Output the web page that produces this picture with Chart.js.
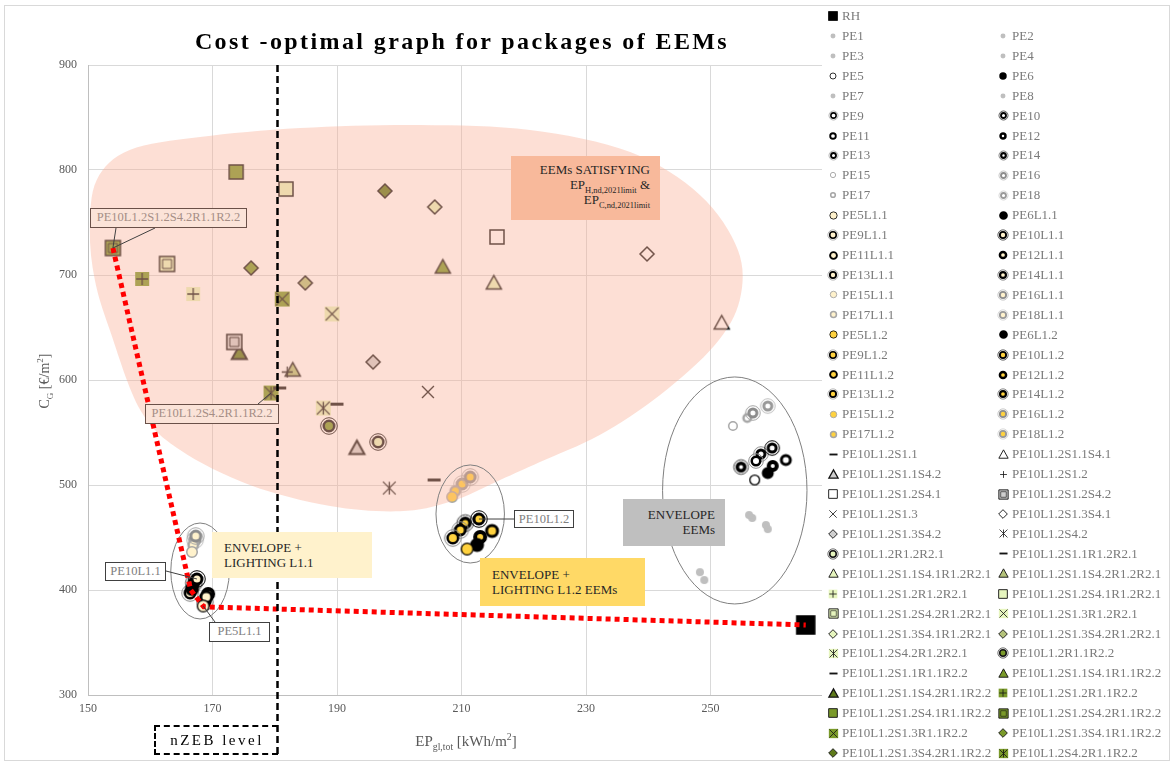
<!DOCTYPE html>
<html>
<head>
<meta charset="utf-8">
<script src="https://cdn.jsdelivr.net/npm/chart.js@4.4.1/dist/chart.umd.min.js"></script>
<style>
  body { margin: 0; background: #fff; font-family: "Liberation Serif", "Times New Roman", serif; }
  #wrap { position: relative; width: 1173px; height: 764px; overflow: hidden; }
  #frame { position: absolute; left: 4px; top: 5px; width: 1166px; height: 756px; border: 1px solid #d9d9d9; box-sizing: border-box; pointer-events: none; }
  canvas#chart { position: absolute; left: 0; top: 0; }
  .ov { position: absolute; box-sizing: border-box; }
  #title { left: 462px; top: 41px; transform: translate(-50%, -50%); font-weight: bold; font-size: 24px; letter-spacing: 2.4px; white-space: nowrap; color: #000; }
  #ytitle { left: 45px; top: 381px; transform: translate(-50%, -50%) rotate(-90deg); font-size: 14px; color: #595959; white-space: nowrap; }
  #xtitle { left: 466px; top: 741px; transform: translate(-50%, -50%); font-size: 15px; color: #595959; white-space: nowrap; }
  sub, sup { font-size: 65%; line-height: 0; }
  #legend { left: 822px; top: 6px; width: 346px; height: 752px; background: #fff; }
  .li { position: absolute; height: 16px; font-size: 13px; color: #7a7a7a; white-space: nowrap; line-height: 16px; }
  .li canvas { position: absolute; }
  .li span { position: absolute; left: 9px; top: 0; }
  .tag { font-size: 13px; color: #262626; line-height: 15px; }
  .call { font-size: 12.5px; color: #808080; background: #fff; border: 1px solid #404040; text-align: center; white-space: nowrap; line-height: 16px; }
  .call.pink { background: #fbe3d8; color: #a58e86; border-color: #6a5048; }
  #nzeb { left: 154px; top: 725px; width: 124px; height: 30px; border: 2px dashed #000; border-right: none; font-size: 15px; letter-spacing: 2.5px; text-align: center; line-height: 26px; color: #000; }
</style>
</head>
<body>
<div id="wrap">
  <canvas id="chart" width="1173" height="764"></canvas>
  <div id="frame"></div>
  <div class="ov" id="title">Cost -optimal graph for packages of EEMs</div>
  <div class="ov" id="ytitle">C<sub>G</sub> [€/m<sup>2</sup>]</div>
  <div class="ov" id="xtitle">EP<sub>gl,tot</sub> [kWh/m<sup>2</sup>]</div>
  <div class="ov tag" style="left:511px;top:156px;width:149px;height:64px;background:#f8b99b;text-align:right;padding:6px 10px 0 0;">EEMs SATISFYING<br>EP<sub>H,nd,2021limit</sub> &amp;<br>EP<sub>C,nd,2021limit</sub></div>
  <div class="ov tag" style="left:212px;top:532px;width:160px;height:46px;background:#fff2cc;padding:8px 0 0 12px;">ENVELOPE +<br>LIGHTING L1.1</div>
  <div class="ov tag" style="left:480px;top:558px;width:165px;height:48px;background:#ffd966;padding:9px 0 0 12px;">ENVELOPE +<br>LIGHTING L1.2 EEMs</div>
  <div class="ov tag" style="left:623px;top:499px;width:102px;height:47px;background:#bfbfbf;text-align:right;padding:8px 10px 0 0;">ENVELOPE<br>EEMs</div>
  <div class="ov call pink" style="left:90px;top:208px;width:157px;height:20px;">PE10L1.2S1.2S4.2R1.1R2.2</div>
  <div class="ov call pink" style="left:145px;top:404px;width:134px;height:20px;">PE10L1.2S4.2R1.1R2.2</div>
  <div class="ov call" style="left:105px;top:562px;width:61px;height:19px;">PE10L1.1</div>
  <div class="ov call" style="left:209px;top:622px;width:61px;height:20px;">PE5L1.1</div>
  <div class="ov call" style="left:514px;top:510px;width:60px;height:18px;">PE10L1.2</div>
  <div class="ov" id="nzeb">nZEB level</div>
  <div class="ov" id="legend"></div>
</div>
<script>
// axis ticks
const xTicks = [150, 170, 190, 210, 230, 250, 270];
const yTicks = [300, 400, 500, 600, 700, 800, 900];

// reference building
const rhEP = 265.3;
const rhCost = 366.7;

// envelope packages
const peNames = ['PE1','PE2','PE3','PE4','PE5','PE6','PE7','PE8','PE9','PE10','PE11','PE12','PE13','PE14','PE15','PE16','PE17','PE18'];
const peEP   = [248.3, 249.0, 256.2, 256.7, 257.1, 259.2, 258.9, 259.2, 257.3, 259.9, 262.1, 260.0, 258.1, 254.9, 253.6, 256.8, 255.9, 259.2];
const peCost = [417.0, 409.5, 471.4, 468.6, 504.8, 511.4, 461.9, 458.0, 522.9, 535.2, 523.8, 518.1, 529.5, 517.1, 556.2, 568.6, 563.8, 575.2];

// envelope + lighting L1.1
const l11Names = ['PE5L1.1','PE6L1.1','PE9L1.1','PE10L1.1','PE11L1.1','PE12L1.1','PE13L1.1','PE14L1.1','PE15L1.1','PE16L1.1','PE17L1.1','PE18L1.1'];
const l11EP   = [168.5, 166.7, 166.4, 167.5, 169.0, 169.3, 168.8, 167.0, 166.7, 167.3, 166.9, 167.2];
const l11Cost = [384.8, 401.0, 397.1, 410.5, 393.3, 396.2, 388.6, 406.7, 436.2, 451.4, 442.9, 447.6];

// envelope + lighting L1.2
const l12Names = ['PE5L1.2','PE6L1.2','PE9L1.2','PE10L1.2','PE11L1.2','PE12L1.2','PE13L1.2','PE14L1.2','PE15L1.2','PE16L1.2','PE17L1.2','PE18L1.2'];
const l12EP   = [210.9, 212.5, 208.6, 212.8, 214.9, 213.0, 209.8, 210.6, 208.5, 211.4, 209.0, 210.1];
const l12Cost = [439.0, 442.9, 449.5, 467.6, 456.2, 450.5, 457.1, 463.8, 488.6, 507.6, 494.3, 501.0];

// PE10L1.2 + systems / renewables
const eemNames = [
  'PE10L1.2S1.1','PE10L1.2S1.1S4.1','PE10L1.2S1.1S4.2','PE10L1.2S1.2','PE10L1.2S1.2S4.1','PE10L1.2S1.2S4.2',
  'PE10L1.2S1.3','PE10L1.2S1.3S4.1','PE10L1.2S1.3S4.2','PE10L1.2S4.2','PE10L1.2R1.2R2.1','PE10L1.2S1.1R1.2R2.1',
  'PE10L1.2S1.1S4.1R1.2R2.1','PE10L1.2S1.1S4.2R1.2R2.1','PE10L1.2S1.2R1.2R2.1','PE10L1.2S1.2S4.1R1.2R2.1',
  'PE10L1.2S1.2S4.2R1.2R2.1','PE10L1.2S1.3R1.2R2.1','PE10L1.2S1.3S4.1R1.2R2.1','PE10L1.2S1.3S4.2R1.2R2.1',
  'PE10L1.2S4.2R1.2R2.1','PE10L1.2R1.1R2.2','PE10L1.2S1.1R1.1R2.2','PE10L1.2S1.1S4.1R1.1R2.2',
  'PE10L1.2S1.1S4.2R1.1R2.2','PE10L1.2S1.2R1.1R2.2','PE10L1.2S1.2S4.1R1.1R2.2','PE10L1.2S1.2S4.2R1.1R2.2',
  'PE10L1.2S1.3R1.1R2.2','PE10L1.2S1.3S4.1R1.1R2.2','PE10L1.2S1.3S4.2R1.1R2.2','PE10L1.2S4.2R1.1R2.2'
];
const eemEP = [
  205.6, 251.8, 193.2, 182.0, 215.7, 173.5,
  204.6, 239.8, 195.8, 198.4, 196.6, 190.0,
  215.2, 182.9, 166.9, 181.8,
  162.7, 189.2, 205.7, 184.9,
  187.8, 188.7, 180.8, 207.0,
  174.3, 158.7, 173.8, 154.0,
  181.2, 176.2, 197.7, 179.4
];
const eemCost = [
  504.8, 654.3, 535.2, 607.6, 736.2, 636.2,
  588.6, 720.0, 617.1, 497.1, 541.0, 577.0,
  692.4, 609.5, 681.9, 781.9,
  710.5, 662.9, 764.8, 692.4,
  573.3, 556.2, 592.4, 707.6,
  625.7, 696.2, 798.1, 725.7,
  677.1, 706.7, 780.0, 587.6
];

// cost-optimal front (red dotted)
const paretoEP   = [154.0, 166.5, 168.6, 265.3];
const paretoCost = [725.7, 400.0, 384.0, 366.7];

// nZEB limit
const nzebEP = 180.4;

// outline of the "EEMs satisfying" area
const zoneEP   = [150.3, 151.4, 156.7, 168.0, 184.1, 203.3, 221.0, 237.1, 248.3, 254.4, 254.7, 250.7, 241.9, 232.2, 222.6, 216.2, 208.2, 200.1, 188.9, 176.0, 164.8, 158.4, 153.5, 151.1];
const zoneCost = [742.9, 790.5, 819.0, 831.4, 840.0, 842.9, 838.1, 817.1, 776.2, 723.8, 676.2, 633.3, 585.7, 547.6, 521.9, 504.8, 484.0, 475.0, 480.0, 500.0, 533.3, 571.4, 647.6, 695.2];

// group ellipses [centre EP, centre cost, half EP, half cost]
const groupRings = [
  [168.0, 418.1, 4.7, 45.7],
  [211.4, 472.4, 5.5, 46.7],
  [253.9, 494.8, 11.6, 108.1]
];

// ---------- marker looks ----------
const INK = '#141414', LIGHT = '#e6f5be', OLIVE = '#7a9a2a', DARKOLIVE = '#5e7a1a', GRAYOLIVE = '#b4c27a', GRAYFILL = '#cfcfcf';

const ringLook = {
  5:  { size: 11, lw: 1.3, stroke: '#000' },
  6:  { size: 12, lw: 3, stroke: '#000', fill: '#000' },
  9:  { size: 11, lw: 2.5, stroke: '#000', outer: '#8c8c8c' },
  10: { size: 11, lw: 3, stroke: '#000', outer: '#000' },
  11: { size: 12, lw: 3, stroke: '#000' },
  12: { size: 12, lw: 4, stroke: '#000' },
  13: { size: 11, lw: 3, stroke: '#000', outer: '#8c8c8c' },
  14: { size: 11, lw: 3.5, stroke: '#000', outer: '#404040' },
  15: { size: 10, lw: 1.5, stroke: '#a6a6a6' },
  16: { size: 11, lw: 3, stroke: '#8c8c8c', outer: '#a6a6a6' },
  17: { size: 10, lw: 2.5, stroke: '#a6a6a6' },
  18: { size: 11, lw: 3, stroke: '#999', outer: '#bfbfbf' }
};

function peLook(name, fill, grow) {
  const n = parseInt(name.slice(2));
  const base = ringLook[n];
  if (!base) return { shape: 'dot', size: 8, fill: '#bfbfbf' };
  return Object.assign({ shape: 'ring', fill: fill }, base, { size: base.size + grow });
}

const eemLooks = [
  { shape: 'dash', size: 13 },
  { shape: 'tri', size: 15, fill: '#fff' },
  { shape: 'tri', size: 15, fill: GRAYFILL, lw: 2 },
  { shape: 'plus', size: 13 },
  { shape: 'square', size: 14, fill: '#fff' },
  { shape: 'square2', size: 15, fill: GRAYFILL },
  { shape: 'cross', size: 14 },
  { shape: 'diamond', size: 14, fill: '#fff' },
  { shape: 'diamond', size: 14, fill: GRAYFILL },
  { shape: 'star', size: 15 },
  { shape: 'ring', size: 13, lw: 2.5, fill: LIGHT, stroke: INK, outer: INK },
  { shape: 'dash', size: 13 },
  { shape: 'tri', size: 15, fill: LIGHT },
  { shape: 'tri', size: 15, fill: GRAYOLIVE },
  { shape: 'plus', size: 14, fill: LIGHT },
  { shape: 'square', size: 14, fill: LIGHT },
  { shape: 'square2', size: 15, fill: LIGHT },
  { shape: 'cross', size: 15, fill: LIGHT },
  { shape: 'diamond', size: 14, fill: LIGHT },
  { shape: 'diamond', size: 14, fill: GRAYOLIVE },
  { shape: 'star', size: 15, fill: LIGHT },
  { shape: 'ring', size: 13, lw: 2.5, fill: OLIVE, stroke: INK, outer: INK },
  { shape: 'dash', size: 13 },
  { shape: 'tri', size: 15, fill: OLIVE },
  { shape: 'tri', size: 15, fill: DARKOLIVE, lw: 2 },
  { shape: 'plus', size: 14, fill: OLIVE },
  { shape: 'square', size: 14, fill: OLIVE },
  { shape: 'square2', size: 15, fill: OLIVE },
  { shape: 'cross', size: 15, fill: OLIVE },
  { shape: 'diamond', size: 14, fill: OLIVE },
  { shape: 'diamond', size: 14, fill: DARKOLIVE },
  { shape: 'star', size: 15, fill: OLIVE }
];

function makeMarker(s, k) {
  k = k || 1;
  const size = (s.size || 12) * k;
  const lw = (s.lw || 1.5) * k;
  const extra = s.outer ? 3 * k : 0;
  const dim = Math.ceil(size + extra * 2 + lw + 4);
  const c = document.createElement('canvas');
  c.width = c.height = dim;
  const g = c.getContext('2d');
  const m = dim / 2, r = size / 2;
  g.strokeStyle = s.stroke || INK;
  g.fillStyle = s.fill || '#fff';
  g.lineWidth = lw;
  g.beginPath();
  switch (s.shape) {
    case 'dot':
      g.arc(m, m, r, 0, Math.PI * 2); g.fill();
      break;
    case 'ring':
      if (s.outer) {
        g.save(); g.strokeStyle = s.outer; g.lineWidth = 1 * k;
        g.beginPath(); g.arc(m, m, r + 1.8 * k, 0, Math.PI * 2); g.stroke(); g.restore();
        g.beginPath();
      }
      g.arc(m, m, r - lw / 2, 0, Math.PI * 2); g.fill(); g.stroke();
      break;
    case 'square':
    case 'square2':
      g.rect(m - r, m - r, size, size); g.fill(); g.stroke();
      if (s.shape === 'square2') { g.beginPath(); g.lineWidth = 1 * k; g.rect(m - r + 3 * k, m - r + 3 * k, size - 6 * k, size - 6 * k); g.stroke(); }
      break;
    case 'tri':
      g.moveTo(m, m - r); g.lineTo(m + r, m + r * 0.8); g.lineTo(m - r, m + r * 0.8); g.closePath(); g.fill(); g.stroke();
      break;
    case 'diamond':
      g.moveTo(m, m - r); g.lineTo(m + r, m); g.lineTo(m, m + r); g.lineTo(m - r, m); g.closePath(); g.fill(); g.stroke();
      break;
    case 'dash':
      g.fillStyle = s.stroke || INK; g.fillRect(m - r, m - 1.5 * k, size, 3 * k);
      break;
    default: {
      if (s.fill) { g.fillRect(m - r, m - r, size, size); }
      g.lineWidth = 1.3 * k;
      const a = r * 0.85;
      g.beginPath();
      if (s.shape === 'plus') { g.moveTo(m - a, m); g.lineTo(m + a, m); g.moveTo(m, m - a); g.lineTo(m, m + a); }
      else {
        g.moveTo(m - a, m - a); g.lineTo(m + a, m + a); g.moveTo(m + a, m - a); g.lineTo(m - a, m + a);
        if (s.shape === 'star') { g.moveTo(m, m - a); g.lineTo(m, m + a); }
      }
      g.stroke();
    }
  }
  return c;
}

// ---------- datasets ----------
const datasets = [];
function addSeries(label, ep, cost, look) {
  datasets.push({
    label: label,
    data: [{ x: ep, y: cost }],
    look: look,
    pointStyle: makeMarker(look),
    pointRadius: 7,
    pointHoverRadius: 7,
    showLine: false
  });
}
addSeries('RH', rhEP, rhCost, { shape: 'square', size: 18, fill: '#000', stroke: '#000' });
peNames.forEach((n, i) => addSeries(n, peEP[i], peCost[i], peLook(n, '#fff', 0)));
l11Names.forEach((n, i) => addSeries(n, l11EP[i], l11Cost[i], peLook(n, '#fff2cc', 2)));
l12Names.forEach((n, i) => addSeries(n, l12EP[i], l12Cost[i], peLook(n, '#ffd23f', 2)));
eemNames.forEach((n, i) => addSeries(n, eemEP[i], eemCost[i], eemLooks[i]));

datasets.push({
  label: 'front',
  isFront: true,
  data: paretoEP.map((x, i) => ({ x: x, y: paretoCost[i] })),
  showLine: true,
  borderColor: '#ff0000',
  borderWidth: 5,
  borderDash: [5, 4],
  borderCapStyle: 'butt',
  pointRadius: 0,
  order: -1
});

// ---------- overlay drawings ----------
function smoothClosed(g, pts) {
  const n = pts.length;
  g.moveTo(pts[0].x, pts[0].y);
  for (let i = 0; i < n; i++) {
    const p0 = pts[(i - 1 + n) % n], p1 = pts[i], p2 = pts[(i + 1) % n], p3 = pts[(i + 2) % n];
    g.bezierCurveTo(p1.x + (p2.x - p0.x) / 6, p1.y + (p2.y - p0.y) / 6,
                    p2.x - (p3.x - p1.x) / 6, p2.y - (p3.y - p1.y) / 6, p2.x, p2.y);
  }
  g.closePath();
}

function pointPx(chart, name) {
  const i = chart.data.datasets.findIndex(d => d.label === name);
  const p = chart.getDatasetMeta(i).data[0];
  return { x: p.x, y: p.y };
}

const overlays = {
  id: 'overlays',
  beforeDatasetDraw(chart, args) {
    if (!chart.data.datasets[args.index].isFront) return;
    const g = chart.ctx, xs = chart.scales.x, ys = chart.scales.y;
    const pts = zoneEP.map((e, i) => ({ x: xs.getPixelForValue(e), y: ys.getPixelForValue(zoneCost[i]) }));
    g.save();
    g.beginPath();
    smoothClosed(g, pts);
    g.fillStyle = 'rgba(250,175,150,0.4)';
    g.fill();
    // group ellipses
    g.strokeStyle = '#7f7f7f';
    g.lineWidth = 1;
    groupRings.forEach(r => {
      const cx = xs.getPixelForValue(r[0]), cy = ys.getPixelForValue(r[1]);
      const rx = Math.abs(xs.getPixelForValue(r[0] + r[2]) - cx);
      const ry = Math.abs(ys.getPixelForValue(r[1] + r[3]) - cy);
      g.beginPath(); g.ellipse(cx, cy, rx, ry, 0, 0, Math.PI * 2); g.stroke();
    });
    g.restore();
  },
  afterDatasetsDraw(chart) {
    const g = chart.ctx, xs = chart.scales.x;
    g.save();
    // nZEB limit line
    const nx = Math.round(xs.getPixelForValue(nzebEP)) + 0.5;
    g.strokeStyle = '#000'; g.lineWidth = 2.5; g.setLineDash([7, 4]);
    g.beginPath(); g.moveTo(nx, chart.chartArea.top); g.lineTo(nx, 755); g.stroke();
    g.setLineDash([]);
    // callout leaders
    g.strokeStyle = '#404040'; g.lineWidth = 1;
    const leaders = [
      ['PE10L1.2S1.2S4.2R1.1R2.2', 116, 228], ['PE10L1.2S1.2S4.2R1.1R2.2', 155, 228],
      ['PE10L1.2S4.2R1.1R2.2', 258, 404],
      ['PE10L1.1', 166, 571],
      ['PE5L1.1', 215, 622],
      ['PE10L1.2', 514, 519]
    ];
    leaders.forEach(l => {
      const p = pointPx(chart, l[0]);
      g.beginPath(); g.moveTo(l[1], l[2]); g.lineTo(p.x, p.y); g.stroke();
    });
    g.restore();
  }
};

const serif = '"Liberation Serif", "Times New Roman", serif';
const chart = new Chart(document.getElementById('chart'), {
  type: 'scatter',
  data: { datasets: datasets },
  options: {
    responsive: false,
    animation: false,
    layout: { padding: { left: 0, top: 65, right: 338, bottom: 0 } },
    plugins: { legend: { display: false }, tooltip: { enabled: false }, title: { display: false } },
    scales: {
      x: {
        type: 'linear', min: xTicks[0], max: xTicks[xTicks.length - 1],
        afterFit: s => { s.height = 69; },
        afterBuildTicks: s => { s.ticks = xTicks.map(v => ({ value: v })); },
        grid: { color: '#d9d9d9', drawTicks: false },
        border: { color: '#bfbfbf' },
        ticks: { padding: 7, color: '#595959', font: { family: serif, size: 12 } }
      },
      y: {
        type: 'linear', min: yTicks[0], max: yTicks[yTicks.length - 1],
        afterFit: s => { s.width = 88; },
        afterBuildTicks: s => { s.ticks = yTicks.map(v => ({ value: v })); },
        grid: { color: '#d9d9d9', drawTicks: false },
        border: { color: '#bfbfbf' },
        ticks: { padding: 11, color: '#595959', font: { family: serif, size: 12 } }
      }
    }
  },
  plugins: [overlays]
});

// ---------- legend ----------
const legend = document.getElementById('legend');
let slot = 0;
chart.data.datasets.forEach(d => {
  if (d.isFront) return;
  const row = Math.floor(slot / 2), col = slot % 2;
  const item = document.createElement('div');
  item.className = 'li';
  item.style.left = (col ? 181 : 11) + 'px';
  item.style.top = (2 + row * 19.92) + 'px';
  const icon = makeMarker(d.look, d.label === 'RH' ? 0.5 : 0.62);
  icon.style.left = (-icon.width / 2) + 'px';
  icon.style.top = (8 - icon.height / 2) + 'px';
  const txt = document.createElement('span');
  txt.textContent = d.label;
  item.appendChild(icon);
  item.appendChild(txt);
  legend.appendChild(item);
  slot += (d.label === 'RH') ? 2 : 1;
});
</script>
</body>
</html>
